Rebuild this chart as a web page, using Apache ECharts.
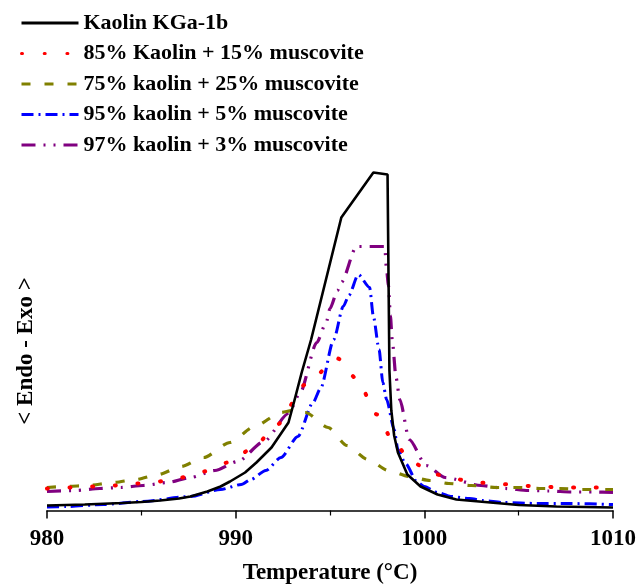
<!DOCTYPE html>
<html>
<head>
<meta charset="utf-8">
<script src="https://cdn.jsdelivr.net/npm/echarts@6/dist/echarts.min.js"></script>
<style>
html,body{margin:0;padding:0;background:#fff;}
#chart{width:639px;height:585px;}
</style>
</head>
<body>
<div id="chart"></div>
<script>
// Data (x: temperature °C, y: relative signal, arbitrary units)
const seriesNames = [
  "Kaolin KGa-1b",
  "85% Kaolin + 15% muscovite",
  "75% kaolin + 25% muscovite",
  "95% kaolin + 5% muscovite",
  "97% kaolin + 3% muscovite"
];
const xTicks = [980, 990, 1000, 1010];

const kaolin = [[980,5],[982,6],[984,7.5],[985,8.5],[986,10],[987,12],[987.6,14],[988.5,19],[989.2,24],[989.7,29],[990.5,38],[991.1,48],[991.9,63],[992.8,88],[993.1,109],[993.5,138],[994.0,171],[995.6,293],[997.3,338],[998.05,336],[998.15,140],[998.25,100],[998.4,75],[998.6,58],[999.1,36],[999.8,24],[1000.7,16],[1001.7,11],[1003.5,8],[1005,5.5],[1007,4],[1010,3]];

const k85 = [[980,22],[981.1,23],[982.3,24],[983.5,25],[984.7,27],[985.9,29],[987.1,33],[988.3,39],[989.6,48],[990.9,62],[992.2,86],[993.7,126],[995.4,152],[996.4,132],[997.5,96],[998.4,67],[999.4,48],[1000.4,37],[1001.5,32],[1002.7,28],[1003.8,27],[1005.0,25],[1006.1,24],[1007.3,23],[1008.5,23],[1010,23]];

const k75 = [[980,23],[981,24],[982.2,25],[983.5,28],[984.7,31],[985.9,36],[987.1,44],[988.3,53],[989.7,68],[991.0,84],[992.4,98],[993.0,100],[993.7,98],[994.9,83],[995.9,65],[997.0,51],[998.1,40],[999.2,34],[1000.3,30],[1001.3,27],[1002.5,25],[1003.8,23],[1004.9,23],[1006.1,22],[1007.2,22],[1008.4,21],[1010,21]];

const k95 = [[980,3.5],[981,4],[983,6],[985,9],[987.6,14],[989.2,21],[990.3,26],[990.8,31],[991.6,40],[992.4,53],[993.3,74],[994.1,108],[994.5,122],[995.2,171],[995.7,204],[996.0,215],[996.5,236],[997.1,223],[997.3,194],[997.6,161],[997.8,128],[998.0,111],[998.4,81],[998.6,61],[999.0,47],[999.6,29],[1000.0,24],[1000.7,18],[1001.4,14],[1002.4,12],[1003.1,10],[1004.2,8],[1006.0,7],[1007.7,7],[1010,6]];

const k97 = [[980,19],[981.5,20],[982.8,22],[983.9,23],[985.1,25],[986.4,28],[987.6,33],[988.9,40],[990.1,49],[991.5,69],[992.8,97],[993.4,117],[994.3,168],[994.8,188],[995.0,202],[995.4,220],[995.6,228],[996.4,264],[997.9,264],[998.0,240],[998.1,225],[998.2,195],[998.3,170],[998.5,133],[998.7,111],[999.2,71],[1000.1,45],[1001.1,33],[1003.0,25],[1004.3,22],[1005.5,20],[1006.6,19.5],[1007.8,18.5],[1009.0,18.5],[1010,18]];

const seriesData = [kaolin, k85, k75, k95, k97];
const colors = ['#000000', '#ff0000', '#808000', '#0000ff', '#800080'];
const dashes = ['solid', [1, 21.7], [9, 14], [12, 5, 2, 5], [14, 8, 2, 8, 2, 8]];
const widths = [2.6, 4, 3.2, 3, 3.2];

const FONT = '"Liberation Serif", "Times New Roman", serif';

const chart = echarts.init(document.getElementById('chart'), null, {renderer: 'canvas'});
const option = {
  animation: false,
  backgroundColor: '#ffffff',
  grid: {left: 47, right: 26, top: 12, bottom: 72, containLabel: false, outerBoundsMode: 'none'},
  legend: {
    orient: 'vertical',
    left: 20,
    top: 12,
    padding: 0,
    itemWidth: 57,
    itemHeight: 14,
    itemGap: 8.5,
    itemStyle: {opacity: 0},
    lineStyle: {width: 3},
    data: seriesNames,
    textStyle: {fontFamily: FONT, fontWeight: 'bold', fontSize: 22, color: '#000', lineHeight: 22}
  },
  xAxis: {
    type: 'value',
    min: 980, max: 1010, interval: 10,
    axisLine: {show: true, lineStyle: {color: '#000', width: 1.5}},
    axisTick: {show: true, length: 8, lineStyle: {color: '#000', width: 1.5}},
    minorTick: {show: true, splitNumber: 2, length: 5, lineStyle: {color: '#000', width: 1.2}},
    splitLine: {show: false},
    axisLabel: {
      margin: 15, color: '#000', fontFamily: FONT, fontWeight: 'bold', fontSize: 23,
      formatter: function (v) { return xTicks.indexOf(v) >= 0 ? String(v) : ''; }
    },
    name: 'Temperature (°C)',
    nameLocation: 'middle',
    nameGap: 49,
    nameTextStyle: {color: '#000', fontFamily: FONT, fontWeight: 'bold', fontSize: 23}
  },
  yAxis: {
    type: 'value',
    min: -2.5, max: 498.5,
    axisLine: {show: false},
    axisTick: {show: false},
    axisLabel: {show: false},
    splitLine: {show: false}
  },
  graphic: [{
    type: 'text',
    x: 26, y: 351,
    rotation: Math.PI / 2,
    style: {
      text: '< Endo - Exo >',
      fill: '#000',
      font: 'bold 23px ' + FONT,
      align: 'center', verticalAlign: 'middle',
      textAlign: 'center', textVerticalAlign: 'middle'
    }
  }],
  series: seriesNames.map(function (name, i) {
    return {
      name: name,
      type: 'line',
      data: seriesData[i],
      symbol: 'none',
      smooth: i === 0 ? false : 0.25,
      smoothMonotone: 'x',
      z: i === 0 ? 10 : 7 - i,
      color: colors[i],
      lineStyle: {color: colors[i], width: widths[i], type: dashes[i], cap: i === 1 ? 'round' : 'butt'}
    };
  })
};
chart.setOption(option);
</script>
</body>
</html>
